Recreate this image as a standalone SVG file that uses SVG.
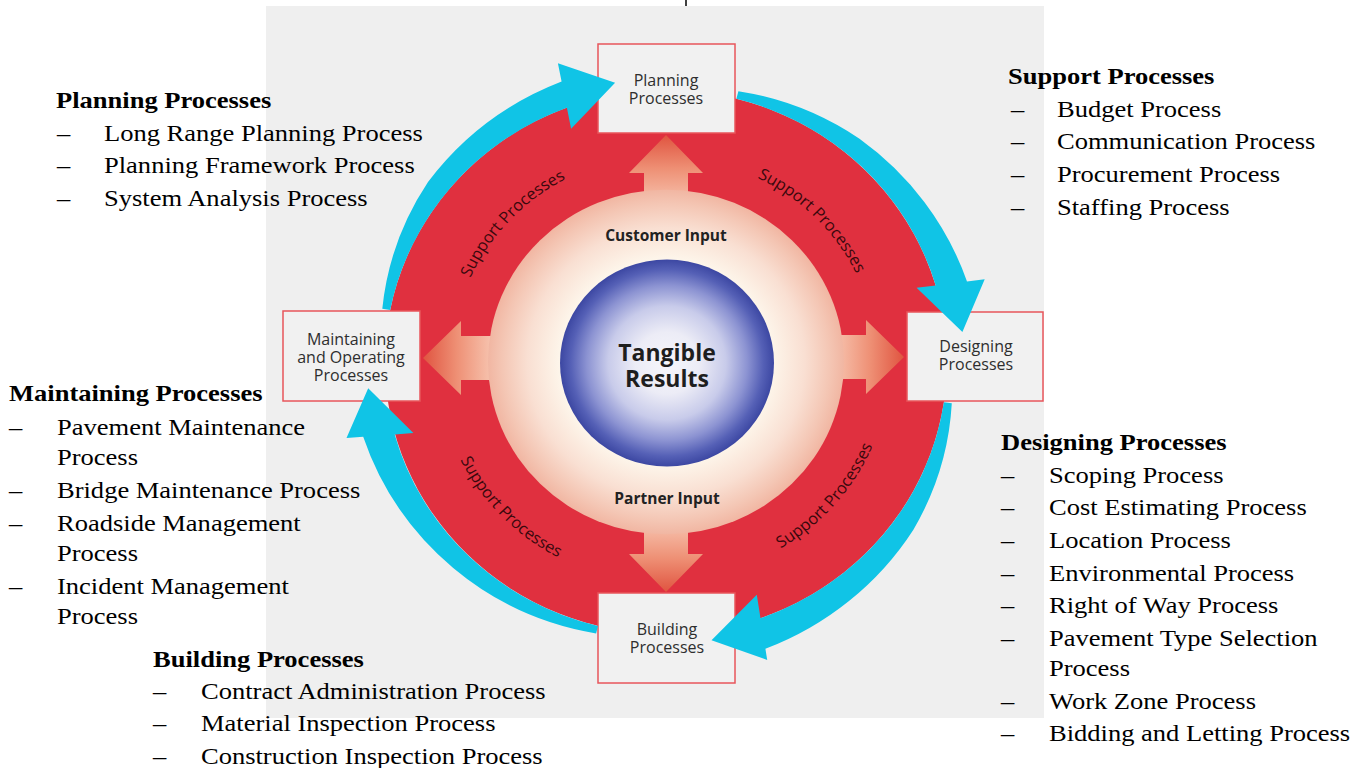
<svg xmlns="http://www.w3.org/2000/svg" width="1369" height="768" viewBox="0 0 1369 768">
<defs>
<style>
.t{font-family:"Liberation Serif","Times New Roman",serif;font-size:24px;fill:#000}
.b{font-weight:bold}
.box rect{fill:#f1f1f1;stroke:#e8555b;stroke-width:1.5}
.lbl{font-family:"Open Sans","Liberation Sans",sans-serif;font-size:16px;fill:#2e2e2e;text-anchor:middle}
.sp{font-family:"Open Sans","Liberation Sans",sans-serif;font-size:16.5px;fill:#3a080d}
.cin{font-family:"Open Sans","Liberation Sans",sans-serif;font-weight:bold;font-size:15.5px;fill:#222;text-anchor:middle}
.tr{font-family:"Open Sans","Liberation Sans",sans-serif;font-weight:bold;font-size:23px;fill:#1e1e1e;text-anchor:middle}
.cy{fill:#10c4e6}
</style>
<radialGradient id="disk" cx="0" cy="0" r="178" gradientUnits="userSpaceOnUse">
<stop offset="0" stop-color="#fffaf2"/>
<stop offset="0.6" stop-color="#fdf5ea"/>
<stop offset="0.78" stop-color="#f9dfd2"/>
<stop offset="0.92" stop-color="#f4c6b4"/>
<stop offset="1" stop-color="#f1b6a2"/>
</radialGradient>
<radialGradient id="sphere" cx="0.5" cy="0.5" r="0.5">
<stop offset="0" stop-color="#f6f6fb"/>
<stop offset="0.3" stop-color="#ececf6"/>
<stop offset="0.55" stop-color="#c8cbea"/>
<stop offset="0.75" stop-color="#8c93d2"/>
<stop offset="0.9" stop-color="#5560b6"/>
<stop offset="1" stop-color="#3c47a2"/>
</radialGradient>
<linearGradient id="ag" x1="0" y1="0" x2="1" y2="0">
<stop offset="0" stop-color="#e05440"/>
<stop offset="0.35" stop-color="#ee8f74"/>
<stop offset="0.7" stop-color="#f6c0ab"/>
<stop offset="1" stop-color="#f8cdb9"/>
</linearGradient>
<path id="inArrow" d="M0,0 L38,-37 L38,-22 L95,-22 L95,22 L38,22 L38,37 Z" fill="url(#ag)"/>
<path id="pTL" d="M -213.9 7.5 A 214 214 0 0 1 -7.5 -213.9"/>
<path id="pTR" d="M 0 -211 A 211 211 0 0 1 211 0"/>
<path id="pBL" d="M -229 -4 A 229 229 0 0 0 -4 229"/>
<path id="pBR" d="M 15.6 223.5 A 224 224 0 0 0 223.5 -15.6"/>
</defs>

<rect x="0" y="0" width="1369" height="768" fill="#ffffff"/>
<rect x="266" y="6" width="778" height="712" fill="#efefef"/>
<line x1="686" y1="0" x2="686" y2="6" stroke="#000" stroke-width="1.5"/>

<g id="ring" transform="translate(666,362) scale(1,0.968)">
<circle cx="0" cy="0" r="281" fill="#e0303f"/>
</g>

<g id="connectors-inner">
<use href="#inArrow" transform="translate(423,358)"/>
<use href="#inArrow" transform="translate(904,357) rotate(180)"/>
<use href="#inArrow" transform="translate(666,135) rotate(90)"/>
<use href="#inArrow" transform="translate(666,592) rotate(-90)"/>
</g>

<g id="core" transform="translate(666,362) scale(1,0.968)">
<circle cx="0" cy="0" r="178" fill="url(#disk)"/>
<circle cx="1" cy="1" r="107" fill="url(#sphere)"/>
<text class="sp"><textPath href="#pTL" startOffset="50%" text-anchor="middle">Support Processes</textPath></text>
<text class="sp"><textPath href="#pTR" startOffset="50%" text-anchor="middle">Support Processes</textPath></text>
<text class="sp"><textPath href="#pBL" startOffset="50%" text-anchor="middle">Support Processes</textPath></text>
<text class="sp"><textPath href="#pBR" startOffset="50%" text-anchor="middle">Support Processes</textPath></text>
</g>

<g id="tangible-results">
<text class="tr" x="667" y="361">Tangible</text>
<text class="tr" x="667" y="387">Results</text>
</g>
<g id="customer-input"><text class="cin" x="666" y="241">Customer Input</text></g>
<g id="partner-input"><text class="cin" x="667" y="504">Partner Input</text></g>

<g id="planning-box" class="box">
<rect x="598" y="44" width="137" height="89"/>
<text class="lbl" x="666" y="86">Planning</text>
<text class="lbl" x="666" y="104">Processes</text>
</g>
<g id="designing-box" class="box">
<rect x="907" y="312" width="136" height="89"/>
<text class="lbl" x="976" y="352">Designing</text>
<text class="lbl" x="976" y="370">Processes</text>
</g>
<g id="maintaining-box" class="box">
<rect x="283" y="311" width="137" height="90"/>
<text class="lbl" x="351" y="345">Maintaining</text>
<text class="lbl" x="351" y="363">and Operating</text>
<text class="lbl" x="351" y="381">Processes</text>
</g>
<g id="building-box" class="box">
<rect x="598" y="593" width="137" height="90"/>
<text class="lbl" x="667" y="635">Building</text>
<text class="lbl" x="667" y="653">Processes</text>
</g>

<g id="connectors-cycle" class="cy" transform="translate(666,362) scale(1,0.968)">
<path d="M -275.8 -53.6 A 281 281 0 0 1 -99.1 -262.6 L -94.9 -241.0 L -50.9 -288.5 L -108.1 -308.6 L -104.4 -289.7 A 305 305 0 0 0 -238.0 -185.9 A 296 296 0 0 0 -283.7 -55.1 Z"/>
<path d="M 70.4 -272.0 A 281 281 0 0 1 269.7 -79.1 L 250.6 -76.6 L 296.4 -31.1 L 318.7 -85.4 L 301.0 -83.1 A 306 306 0 0 0 193.5 -230.6 A 295 295 0 0 0 72.4 -279.8 Z"/>
<path d="M 277.9 41.5 A 281 281 0 0 1 94.5 264.7 L 90.8 240.4 L 45.5 287.4 L 101.2 307.8 L 99.4 296.3 A 307 307 0 0 0 247.4 173.2 A 296 296 0 0 0 285.8 42.7 Z"/>
<path d="M -68.0 272.7 A 281 281 0 0 1 -271.3 74.8 L -252.6 73.4 L -297.8 27.1 L -319.5 78.5 L -302.8 77.2 A 307 307 0 0 0 -212.8 212.8 A 295 295 0 0 0 -69.9 280.4 Z"/>
</g>

<g id="planning-list" class="t">
<text class="b" transform="translate(56,108) scale(1.105,1)">Planning Processes</text>
<text transform="translate(57,141) scale(1.105,1)">–</text>
<text transform="translate(104,141) scale(1.105,1)">Long Range Planning Process</text>
<text transform="translate(57,173) scale(1.105,1)">–</text>
<text transform="translate(104,173) scale(1.105,1)">Planning Framework Process</text>
<text transform="translate(57,206) scale(1.105,1)">–</text>
<text transform="translate(104,206) scale(1.105,1)">System Analysis Process</text>
</g>
<g id="support-list" class="t">
<text class="b" transform="translate(1008,84) scale(1.105,1)">Support Processes</text>
<text transform="translate(1011,117) scale(1.105,1)">–</text>
<text transform="translate(1057,117) scale(1.105,1)">Budget Process</text>
<text transform="translate(1011,149) scale(1.105,1)">–</text>
<text transform="translate(1057,149) scale(1.105,1)">Communication Process</text>
<text transform="translate(1011,182) scale(1.105,1)">–</text>
<text transform="translate(1057,182) scale(1.105,1)">Procurement Process</text>
<text transform="translate(1011,215) scale(1.105,1)">–</text>
<text transform="translate(1057,215) scale(1.105,1)">Staffing Process</text>
</g>
<g id="maintaining-list" class="t">
<text class="b" transform="translate(9,401) scale(1.105,1)">Maintaining Processes</text>
<text transform="translate(9,435) scale(1.105,1)">–</text>
<text transform="translate(57,435) scale(1.105,1)">Pavement Maintenance</text>
<text transform="translate(57,465) scale(1.105,1)">Process</text>
<text transform="translate(9,498) scale(1.105,1)">–</text>
<text transform="translate(57,498) scale(1.105,1)">Bridge Maintenance Process</text>
<text transform="translate(9,531) scale(1.105,1)">–</text>
<text transform="translate(57,531) scale(1.105,1)">Roadside Management</text>
<text transform="translate(57,561) scale(1.105,1)">Process</text>
<text transform="translate(9,594) scale(1.105,1)">–</text>
<text transform="translate(57,594) scale(1.105,1)">Incident Management</text>
<text transform="translate(57,624) scale(1.105,1)">Process</text>
</g>
<g id="designing-list" class="t">
<text class="b" transform="translate(1001,450) scale(1.105,1)">Designing Processes</text>
<text transform="translate(1001,483) scale(1.105,1)">–</text>
<text transform="translate(1049,483) scale(1.105,1)">Scoping Process</text>
<text transform="translate(1001,515) scale(1.105,1)">–</text>
<text transform="translate(1049,515) scale(1.105,1)">Cost Estimating Process</text>
<text transform="translate(1001,548) scale(1.105,1)">–</text>
<text transform="translate(1049,548) scale(1.105,1)">Location Process</text>
<text transform="translate(1001,581) scale(1.105,1)">–</text>
<text transform="translate(1049,581) scale(1.105,1)">Environmental Process</text>
<text transform="translate(1001,613) scale(1.105,1)">–</text>
<text transform="translate(1049,613) scale(1.105,1)">Right of Way Process</text>
<text transform="translate(1001,646) scale(1.105,1)">–</text>
<text transform="translate(1049,646) scale(1.105,1)">Pavement Type Selection</text>
<text transform="translate(1049,676) scale(1.105,1)">Process</text>
<text transform="translate(1001,709) scale(1.105,1)">–</text>
<text transform="translate(1049,709) scale(1.105,1)">Work Zone Process</text>
<text transform="translate(1001,741) scale(1.105,1)">–</text>
<text transform="translate(1049,741) scale(1.105,1)">Bidding and Letting Process</text>
</g>
<g id="building-list" class="t">
<text class="b" transform="translate(153,667) scale(1.105,1)">Building Processes</text>
<text transform="translate(153,699) scale(1.105,1)">–</text>
<text transform="translate(201,699) scale(1.105,1)">Contract Administration Process</text>
<text transform="translate(153,731) scale(1.105,1)">–</text>
<text transform="translate(201,731) scale(1.105,1)">Material Inspection Process</text>
<text transform="translate(153,764) scale(1.105,1)">–</text>
<text transform="translate(201,764) scale(1.105,1)">Construction Inspection Process</text>
</g>
</svg>
